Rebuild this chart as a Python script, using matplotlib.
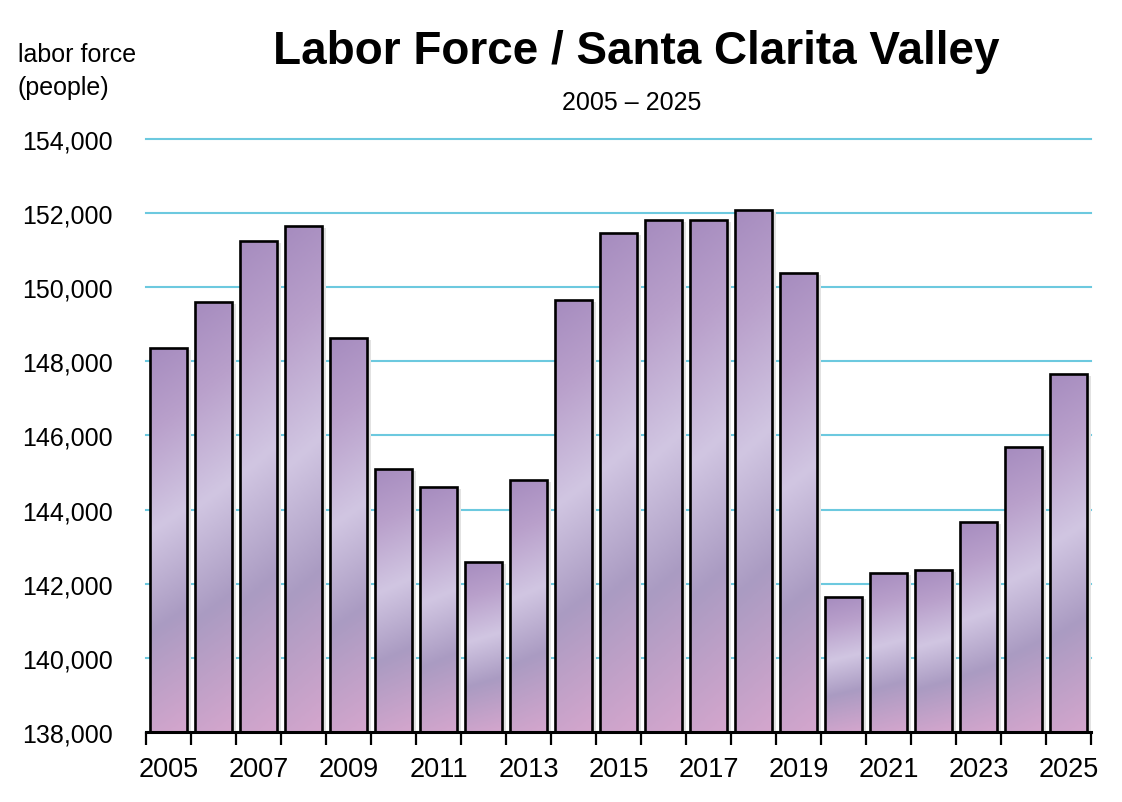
import matplotlib
matplotlib.use("Agg")
import matplotlib.pyplot as plt
import numpy as np
from matplotlib.colors import LinearSegmentedColormap
from matplotlib.ticker import FuncFormatter

plt.rcParams['font.family'] = ['Liberation Sans', 'DejaVu Sans']

years = list(range(2005, 2026))
labor_force = [148360, 149600, 151250, 151650, 148630, 145100, 144610, 142590,
               144800, 149660, 151460, 151820, 151820, 152090, 150390, 141640,
               142290, 142370, 143670, 145680, 147660]
year_labels = [str(y) if (y - 2005) % 2 == 0 else "" for y in years]
y_ticks = [138000, 140000, 142000, 144000, 146000, 148000, 150000, 152000, 154000]

# bar gradient: top purple -> light lavender -> greyish band -> pink bottom
grad = LinearSegmentedColormap.from_list(
    "bar", [(0.0, "#d4a6cd"), (0.30, "#aa9bc2"), (0.55, "#d1c6e2"),
            (0.80, "#b9a0cb"), (1.0, "#a68cbf")])

fig = plt.figure(figsize=(11.22, 8.03), dpi=100)
ax = fig.add_axes([0.1301, 0.0872, 0.8423, 0.7385])

ymin, ymax = 138000, 154000
ax.set_ylim(ymin, ymax)
ax.set_xlim(-0.5, len(years) - 0.5)

ax.set_yticks(y_ticks)
ax.yaxis.set_major_formatter(FuncFormatter(lambda v, p: f"{int(v):,}"))
ax.grid(axis='y', color='#6cc9df', lw=1.5, zorder=0)
ax.set_axisbelow(True)
for gl in ax.get_ygridlines():
    gl.set_clip_on(False)

w = 0.82
ny, nx = 200, 20
gy, gx = np.mgrid[0:1:ny * 1j, 0:1:nx * 1j]
for i, v in enumerate(labor_force):
    x0 = i - w / 2
    # faint shadow to the right
    ax.add_patch(plt.Rectangle((x0 + 0.08, ymin), w, v - ymin - 60,
                               facecolor='#e2e2e2', edgecolor='none', zorder=1))
    bar = ax.bar(i, v - ymin, bottom=ymin, width=w, facecolor='none',
                 edgecolor='black', lw=1.9, zorder=3)[0]
    img = ax.imshow(gy - 0.06 * gx, cmap=grad, origin='lower', aspect='auto',
                    extent=[x0, x0 + w, ymin, v], vmin=-0.06, vmax=1.0,
                    interpolation='bilinear', zorder=2)
    img.set_clip_path(bar)

for s in ['top', 'right', 'left']:
    ax.spines[s].set_visible(False)
ax.spines['bottom'].set_linewidth(2.2)
ax.spines['bottom'].set_zorder(4)

ax.tick_params(axis='y', length=0, pad=24, labelsize=18)
ax.set_xticks(range(len(years)))
ax.set_xticklabels(year_labels)
ax.tick_params(axis='x', which='major', length=0, pad=17, labelsize=19.5)
ax.set_xticks(np.arange(-0.5, len(years), 1.0), minor=True)
ax.tick_params(axis='x', which='minor', length=9, width=1.6, direction='out')

fig.text(0.567, 0.935, "Labor Force / Santa Clarita Valley", ha='center', va='center',
         fontsize=33, fontweight='bold')
fig.text(0.563, 0.872, "2005 \u2013 2025", ha='center', va='center', fontsize=18)
fig.text(0.016, 0.911, "labor force\n(people)", ha='left', va='center', fontsize=18,
         linespacing=1.45)

fig.savefig("out.png", dpi=100)
